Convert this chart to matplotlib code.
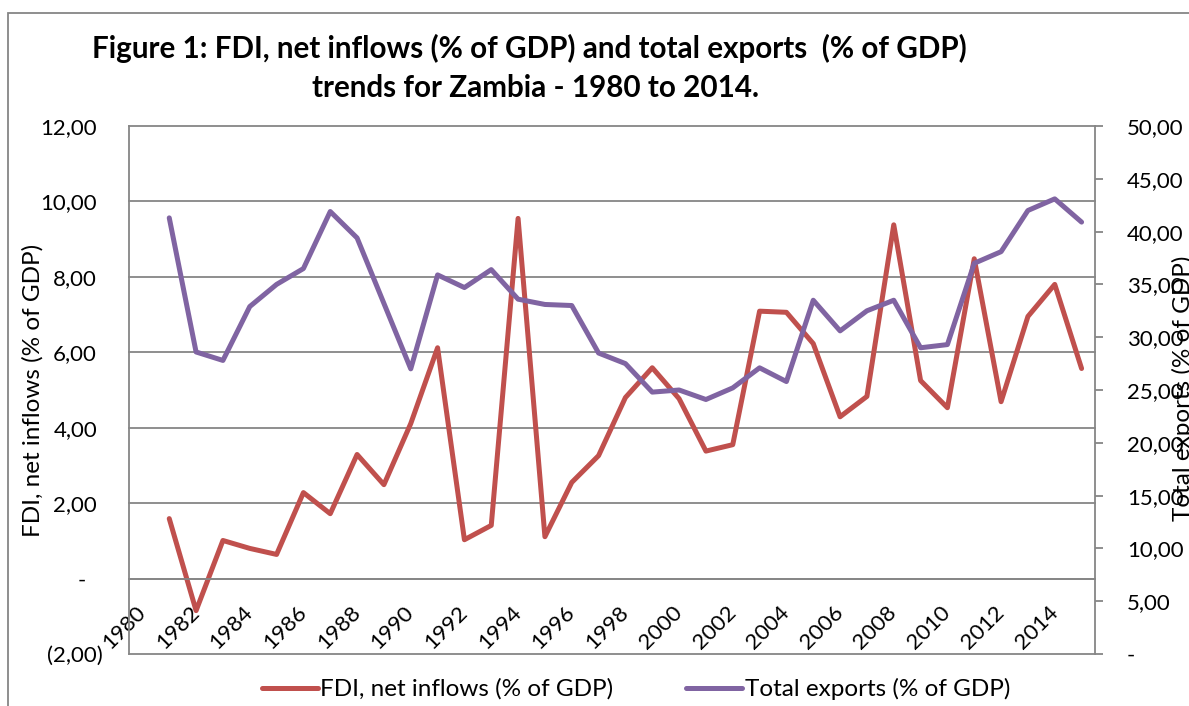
import numpy as np
import matplotlib
matplotlib.use("Agg")
import matplotlib.pyplot as plt
from matplotlib.patches import Rectangle
from matplotlib.transforms import ScaledTranslation

plt.rcParams['font.family'] = ['Lato', 'DejaVu Sans']

# Zambia, 1980-2015 (no value recorded for 1980)
years = list(range(1980, 2016))
fdi_pct_gdp = [np.nan, 1.59, -0.85, 1.01, 0.80, 0.64, 2.28, 1.72, 3.29, 2.49,
               4.11, 6.12, 1.03, 1.41, 9.55, 1.11, 2.55, 3.26, 4.80, 5.59,
               4.77, 3.38, 3.55, 7.09, 7.06, 6.23, 4.29, 4.83, 9.38, 5.25,
               4.53, 8.48, 4.69, 6.95, 7.80, 5.57]
exports_pct_gdp = [np.nan, 41.3, 28.6, 27.8, 32.9, 35.0, 36.5, 41.9, 39.4, 33.2,
                   27.0, 35.9, 34.7, 36.4, 33.6, 33.1, 33.0, 28.5, 27.5, 24.8,
                   25.0, 24.1, 25.2, 27.1, 25.8, 33.5, 30.6, 32.5, 33.5, 29.0,
                   29.3, 37.0, 38.1, 42.0, 43.1, 40.9]

left_ticks = [-2, 0, 2, 4, 6, 8, 10, 12]
left_labels = ['(2,00)', '-', '2,00', '4,00', '6,00', '8,00', '10,00', '12,00']
right_ticks = [0, 5, 10, 15, 20, 25, 30, 35, 40, 45, 50]
right_labels = ['-', '5,00', '10,00', '15,00', '20,00', '25,00', '30,00',
                '35,00', '40,00', '45,00', '50,00']

title_line1 = "Figure 1: FDI, net inflows (% of GDP) and total exports  (% of GDP)"
title_line2 = "trends for Zambia - 1980 to 2014."
fdi_name = "FDI, net inflows (% of GDP)"
exp_name = "Total exports (% of GDP)"

RED = '#C0504D'
PURPLE = '#8064A2'
GRID = '#868686'
W, H = 1189, 706
TICK_FS = 16
LABEL_FS = 17.5

fig = plt.figure(figsize=(W / 100, H / 100), dpi=100)
ax = fig.add_axes([129 / W, 1 - 654 / H, 966 / W, 528 / H])
ax2 = ax.twinx()

# category axis crosses the value axis at zero
ax.spines['bottom'].set_position(('data', 0))

x = np.arange(len(years))
ax.plot(x, fdi_pct_gdp, color=RED, lw=3.6, solid_joinstyle='round',
        solid_capstyle='round', label=fdi_name)
ax2.plot(x, exports_pct_gdp, color=PURPLE, lw=3.6, solid_joinstyle='round',
         solid_capstyle='round', label=exp_name)

ax.set_xlim(-0.5, len(years) - 0.5)
ax.set_ylim(-2, 12)
ax2.set_ylim(0, 50)

# left value axis
ax.set_yticks(left_ticks)
ax.set_yticklabels(left_labels, fontsize=TICK_FS)
ax.tick_params(axis='y', length=0, pad=23)
ax.yaxis.grid(True, color=GRID, lw=1.3)
for gl in ax.get_ygridlines():
    gl.set_clip_on(False)
ax.set_axisbelow(True)
for lab in ax.get_yticklabels():
    t = lab.get_text()
    if t == '-':
        lab.set_transform(lab.get_transform() + ScaledTranslation(-11 / 100, 0, fig.dpi_scale_trans))
    elif t.startswith('('):
        lab.set_transform(lab.get_transform() + ScaledTranslation(6 / 100, 0, fig.dpi_scale_trans))

# category labels
ax.set_xticks(x[::2])
ax.set_xticklabels([str(y) for y in years[::2]], fontsize=TICK_FS)
ax.spines['bottom'].set_color(GRID)
ax.spines['bottom'].set_linewidth(1.3)
ax.tick_params(axis='x', length=0, pad=22)
for lab in ax.get_xticklabels():
    lab.set_rotation(45)
    lab.set_ha('right')
    lab.set_va('center')
    lab.set_rotation_mode('anchor')

ax.spines['left'].set_color(GRID)
ax.spines['left'].set_linewidth(1.3)
for s in ('top', 'right'):
    ax.spines[s].set_visible(False)

# right value axis
ax2.set_yticks(right_ticks)
ax2.set_yticklabels(right_labels, fontsize=TICK_FS)
ax2.tick_params(axis='y', length=6, width=1.3, color=GRID, pad=17, direction='out')
for s in ('top', 'bottom', 'left'):
    ax2.spines[s].set_visible(False)
ax2.spines['right'].set_color(GRID)
ax2.spines['right'].set_linewidth(1.3)

# titles and axis names
fig.text(529 / W, 1 - 48 / H, title_line1, ha='center', va='center',
         fontsize=21.3, fontweight='bold')
fig.text(536 / W, 1 - 88 / H, title_line2, ha='center', va='center',
         fontsize=21.3, fontweight='bold')
fig.text(33 / W, 1 - 390 / H, fdi_name, rotation=90, ha='center', va='center',
         fontsize=LABEL_FS)
fig.text(1183 / W, 1 - 388 / H, exp_name, rotation=90, ha='center', va='center',
         fontsize=LABEL_FS)

# legend
handles = ax.get_lines() + ax2.get_lines()
fig.legend(handles, [h.get_label() for h in handles], loc='center',
           bbox_to_anchor=(636 / W, 1 - 689 / H), ncol=2, frameon=False,
           fontsize=LABEL_FS, handlelength=2.3, handletextpad=0.1, columnspacing=3.0)

# chart border
fig.add_artist(Rectangle((8 / W, -0.2), 1.2, 1.2 - 13 / H, transform=fig.transFigure,
                         fill=False, edgecolor=GRID, lw=1.3))

fig.savefig('out.png', dpi=100)
